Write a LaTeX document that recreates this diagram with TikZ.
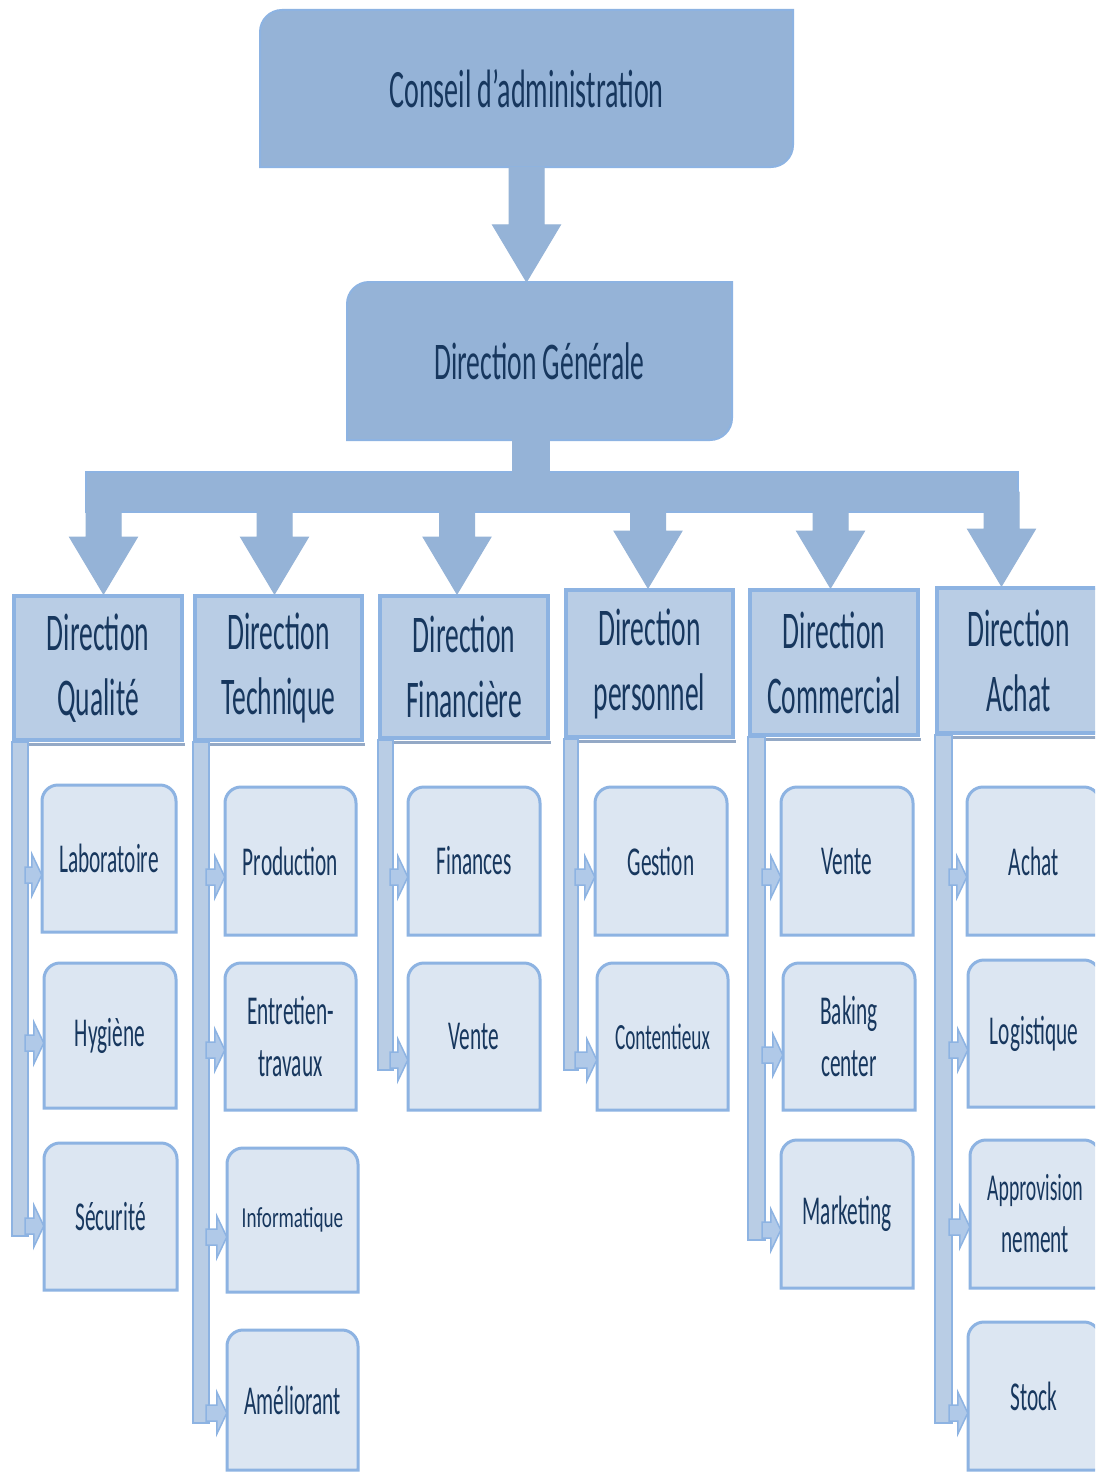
\documentclass[tikz,border=0pt]{standalone}
\usepackage{fontspec}
\setmainfont{Carlito}[FakeStretch=0.52]
\newfontfamily\infofont{Carlito}[FakeStretch=0.66]
\usetikzlibrary{calc}
\definecolor{dk}{HTML}{95B3D7}
\definecolor{edgeb}{HTML}{8DB3E2}
\definecolor{midb}{HTML}{B9CDE5}
\definecolor{ltb}{HTML}{DCE6F2}
\definecolor{txt}{HTML}{17375E}
\definecolor{sarc}{HTML}{B0C9E8}
\definecolor{shad}{HTML}{94A9C6}
\tikzset{
  bigsty/.style={fill=dk, draw=edgeb, line width=2pt},
  dirsty/.style={fill=midb, draw=edgeb, line width=4pt, inner sep=0pt, text=txt, align=center, font=\fontsize{53}{65}\selectfont},
  substy/.style={fill=ltb, draw=edgeb, line width=3pt},
  lbl/.style={inner sep=0pt, text=txt, align=center, font=\fontsize{41}{52}\selectfont},
  arrsty/.style={fill=dk, draw=dk, line width=1pt},
  barsty/.style={fill=midb, draw=edgeb, line width=2pt},
  sarr/.style={fill=sarc, draw=edgeb, line width=1.5pt},
  shadow line/.style={draw=shad, line width=2.5pt},
}
% big box: rounded top-left and bottom-right
\newcommand\bigbox[6]{%
  \filldraw[bigsty] (#2,#5) -- (#2,#3+22) arc[start angle=180,end angle=270,radius=22] -- (#4,#3) -- (#4,#5-22) arc[start angle=0,end angle=90,radius=22] -- cycle;
  \node[lbl, minimum width={#4-#2}, minimum height={#5-#3}] (#1) at ({(#2+#4)/2},{(#3+#5)/2}) {#6};}
% sub box: rounded top corners
\newcommand\subbox[6]{%
  \filldraw[substy] (#2,#5) -- (#2,#3+16) arc[start angle=180,end angle=270,radius=16] -- (#4-16,#3) arc[start angle=-90,end angle=0,radius=16] -- (#4,#5) -- cycle;
  \node[lbl, minimum width={#4-#2}, minimum height={#5-#3}] (#1) at ({(#2+#4)/2},{(#3+#5)/2}) {#6};}
% vertical block arrow from coordinate #1 to apex #2
\newcommand\varrow[2]{%
  \filldraw[arrsty] ($(#1)+(-17.5,0)$) -- ($(#2)+(-17.5,-57)$) -- ($(#2)+(-34,-57)$) -- (#2) -- ($(#2)+(34,-57)$) -- ($(#2)+(17.5,-57)$) -- ($(#1)+(17.5,0)$) -- cycle;}
% small horizontal arrow from bar (x=#1, y=#2) to node #3
\newcommand\harrow[3]{%
  \coordinate (hs) at (#1,#2);
  \coordinate (ht) at (#3.west |- hs);
  \filldraw[sarr] ($(hs)+(-3,-8)$) -- ($(ht)+(-10,-8)$) -- ($(ht)+(-10,-21)$) -- (ht) -- ($(ht)+(-10,21)$) -- ($(ht)+(-10,8)$) -- ($(hs)+(-3,8)$) -- cycle;}
% darker bottom edge of a direction box
\newcommand\shadowedge[1]{%
  \draw[shadow line] ($(#1.south west)+(3,2.5)$) -- ($(#1.south east)+(0.5,2.5)$);}
\begin{document}
\begin{tikzpicture}[x=1pt,y=-1pt]
\useasboundingbox (0,0) rectangle (1095,1472);
\clip (0,0) rectangle (1095,1472);
\fill[white] (0,0) rectangle (1095,1472);

% top boxes
\bigbox{ca}{260}{10}{793}{167}{\fontsize{54}{60}\selectfont Conseil d’administration}
\bigbox{dg}{347}{282}{732}{440}{\fontsize{53}{60}\selectfont Direction Générale}
\varrow{ca.south}{ca.south |- dg.north}

% bus
\coordinate (hub) at (531,492);
\coordinate (busL) at (86,492);
\coordinate (busR) at (1018,492);
\filldraw[fill=dk, draw=edgeb, line width=1.2pt] ($(busL)+(0,-20)$) rectangle ($(busR)+(0,20)$);
\fill[dk] ($(hub |- dg.south)+(-19,-1)$) rectangle ($(hub)+(19,-19)$);

% direction boxes
\node[dirsty, minimum width=168pt, minimum height=144pt] (dq) at (98,668) {Direction\\Qualité};
\node[dirsty, minimum width=167pt, minimum height=144pt] (dt) at (278.5,668) {Direction\\Technique};
\node[dirsty, minimum width=168pt, minimum height=142pt] (df) at (464,667) {Direction\\Financière};
\node[dirsty, minimum width=167pt, minimum height=147pt] (dp) at (649.5,663.5) {Direction\\personnel};
\node[dirsty, minimum width=168pt, minimum height=145pt] (dc) at (834,662.5) {Direction\\Commercial};
\node[dirsty, minimum width=163pt, minimum height=145pt] (da) at (1018.5,660.5) {Direction\\Achat};
\shadowedge{dq}\shadowedge{dt}\shadowedge{df}\shadowedge{dp}\shadowedge{dc}\shadowedge{da}

% bus arrows
\coordinate (bq) at (103.5,492);
\coordinate (bt) at (274.5,492);
\coordinate (bf) at (457,492);
\coordinate (bp) at (648,492);
\coordinate (bc) at (830.5,492);
\coordinate (ba) at (1001.5,492);
\varrow{bq}{bq |- dq.north}
\varrow{bt}{bt |- dt.north}
\varrow{bf}{bf |- df.north}
\varrow{bp}{bp |- dp.north}
\varrow{bc}{bc |- dc.north}
\varrow{ba}{ba |- da.north}

% sub boxes
\subbox{lab}{42}{785}{176}{932}{Laboratoire}
\subbox{hyg}{44}{963}{176}{1108}{Hygiène}
\subbox{sec}{44}{1143}{177}{1290}{Sécurité}
\subbox{prod}{225}{787}{356}{935}{Production}
\subbox{entr}{225}{963}{356}{1110}{Entretien-\\travaux}
\subbox{info}{227}{1148}{358}{1292}{\infofont\fontsize{29}{34}\selectfont Informatique}
\subbox{amel}{227}{1330}{358}{1470}{Améliorant}
\subbox{fin}{408}{787}{540}{935}{Finances}
\subbox{ventef}{408}{963}{540}{1110}{Vente}
\subbox{gest}{595}{787}{727}{935}{Gestion}
\subbox{cont}{597}{963}{728}{1110}{\fontsize{37}{44}\selectfont Contentieux}
\subbox{ventec}{781}{787}{913}{935}{Vente}
\subbox{bak}{783}{963}{915}{1110}{Baking\\center}
\subbox{mark}{781}{1140}{913}{1288}{Marketing}
\subbox{ach}{967}{787}{1100}{935}{Achat}
\subbox{logi}{968}{960}{1100}{1107}{Logistique}
\subbox{appro}{970}{1140}{1100}{1288}{\fontsize{38}{51}\selectfont Approvision\\nement}
\subbox{stock}{968}{1322}{1100}{1470}{Stock}

% side bars
\filldraw[barsty] (dq.south west) rectangle (28,1236);
\filldraw[barsty] (dt.south west) rectangle (209,1423);
\filldraw[barsty] (df.south west) rectangle (393,1070);
\filldraw[barsty] (dp.south west) rectangle (578,1070);
\filldraw[barsty] (dc.south west) rectangle (765,1240);
\filldraw[barsty] (da.south west) rectangle (952,1423);

% small arrows
\harrow{28}{875}{lab}
\harrow{28}{1043}{hyg}
\harrow{28}{1226}{sec}
\harrow{209}{877}{prod}
\harrow{209}{1050}{entr}
\harrow{209}{1237}{info}
\harrow{209}{1413}{amel}
\harrow{393}{877}{fin}
\harrow{393}{1060}{ventef}
\harrow{578}{877}{gest}
\harrow{578}{1060}{cont}
\harrow{765}{877}{ventec}
\harrow{765}{1055}{bak}
\harrow{765}{1230}{mark}
\harrow{952}{877}{ach}
\harrow{952}{1050}{logi}
\harrow{952}{1227}{appro}
\harrow{952}{1413}{stock}
\end{tikzpicture}
\end{document}
